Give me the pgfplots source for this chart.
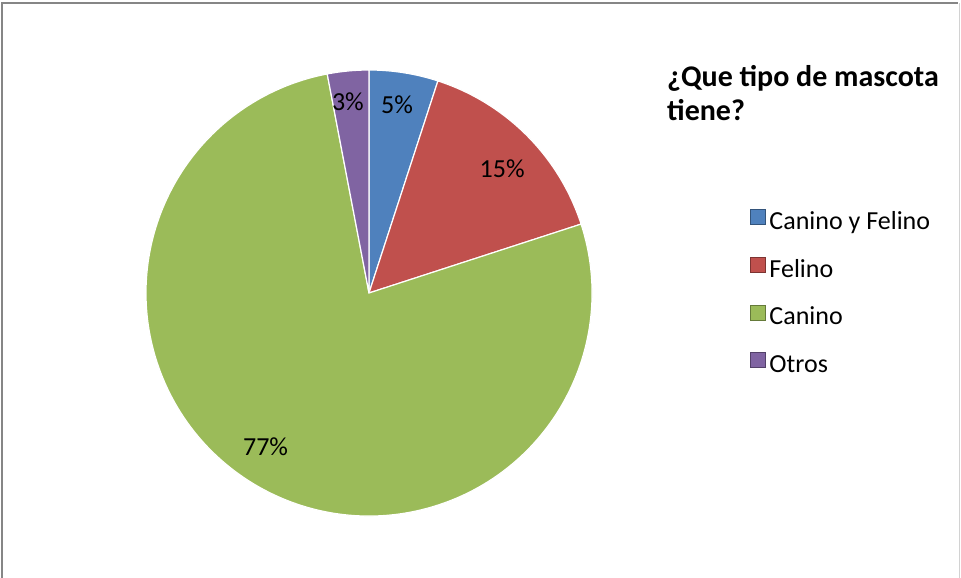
\documentclass[border=0pt]{standalone}
\usepackage{fontspec}
\setmainfont{Carlito}
\usepackage{pgfplots}
\pgfplotsset{compat=1.18}
\usetikzlibrary{calc}
\definecolor{pieblue}{RGB}{79,129,189}
\definecolor{piered}{RGB}{192,80,77}
\definecolor{piegreen}{RGB}{155,187,89}
\definecolor{piepurple}{RGB}{128,100,162}

\begin{document}
\begin{tikzpicture}
\path[use as bounding box] (0pt,0pt) rectangle (961pt,-578pt);
\draw[gray!95, line width=2pt] (1.5pt,-578pt) -- (1.5pt,-3.5pt) -- (958pt,-3.5pt);
\draw[gray!35, line width=1pt] (959.5pt,-3.5pt) -- (959.5pt,-578pt);

\begin{axis}[
    hide axis, clip=false,
    x=223pt, y=223pt,
    xmin=-1, xmax=1, ymin=-1, ymax=1,
    anchor=center, at={(369pt,-293pt)},
    legend cell align=left,
    legend image code/.code={\draw[#1] (0pt,-1pt) rectangle (15pt,14pt);},
    legend style={at={(1.354,0.688)}, anchor=north west, draw=none, fill=none,
        inner sep=0pt, row sep=21.5pt,
        font=\fontsize{26}{31}\selectfont,
        nodes={inner sep=0pt, text height=18pt, text depth=6pt},
        /tikz/every odd column/.style={column sep=4pt}},
    ]
    % percentages: 5, 15, 77, 3 (clockwise from the top)
    \fill[pieblue, draw=white, line width=1.2pt] (0,0) -- ++(90:223pt) arc[start angle=90, end angle={90-5*3.6}, radius=223pt] -- cycle;
    \fill[piered, draw=white, line width=1.2pt] (0,0) -- ++(72:223pt) arc[start angle=72, end angle={72-15*3.6}, radius=223pt] -- cycle;
    \fill[piegreen, draw=white, line width=1.2pt] (0,0) -- ++(18:223pt) arc[start angle=18, end angle={18-77*3.6}, radius=223pt] -- cycle;
    \fill[piepurple, draw=white, line width=1.2pt] (0,0) -- ++(-259.2:223pt) arc[start angle=-259.2, end angle={-259.2-3*3.6}, radius=223pt] -- cycle;

    \node[font=\fontsize{26}{31}\selectfont] at ($(0,0)+(81.5:190pt)$) {5\%};
    \node[font=\fontsize{26}{31}\selectfont] at ($(0,0)+(43:182pt)$) {15\%};
    \node[font=\fontsize{26}{31}\selectfont] at ($(0,0)+(-124:185pt)$) {77\%};
    \node[font=\fontsize{26}{31}\selectfont] at ($(0,0)+(-263.7:192pt)$) {3\%};

    \addlegendimage{fill=pieblue, draw=pieblue!65!black}
    \addlegendentry{Canino y Felino}
    \addlegendimage{fill=piered, draw=piered!65!black}
    \addlegendentry{Felino}
    \addlegendimage{fill=piegreen, draw=piegreen!65!black}
    \addlegendentry{Canino}
    \addlegendimage{fill=piepurple, draw=piepurple!65!black}
    \addlegendentry{Otros}
\end{axis}

\node[anchor=base west, font=\bfseries\fontsize{30}{35}\selectfont, inner sep=0pt] at (667pt,-86pt) {¿Que tipo de mascota};
\node[anchor=base west, font=\bfseries\fontsize{30}{35}\selectfont, inner sep=0pt] at (667pt,-120pt) {tiene?};
\end{tikzpicture}
\end{document}
